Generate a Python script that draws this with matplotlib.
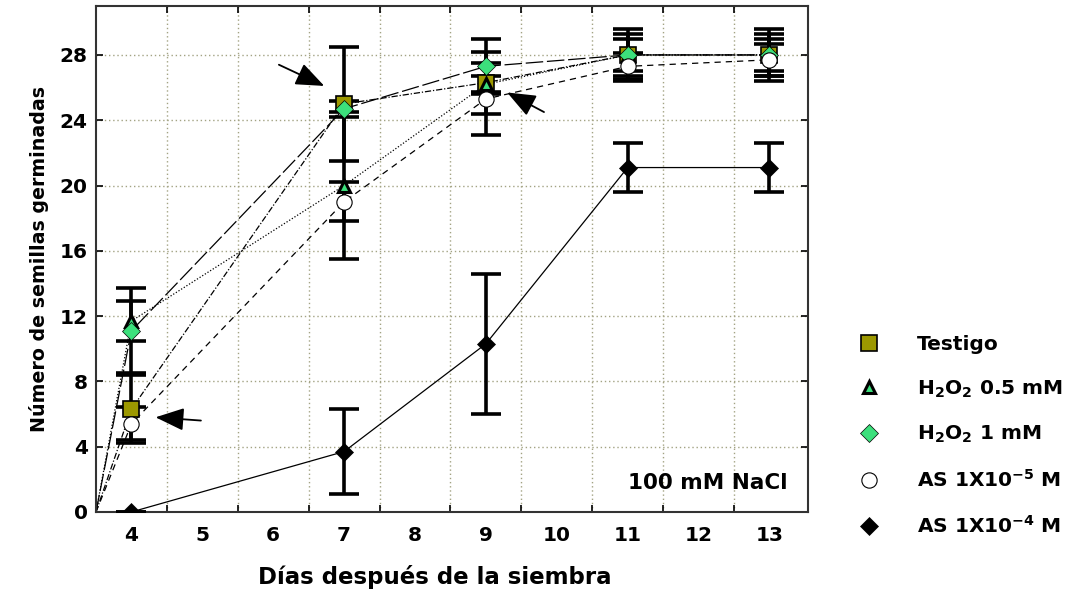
import matplotlib
matplotlib.use('Agg')
import numpy as np
from matplotlib import pyplot as plt
from matplotlib.lines import Line2D

# days after sowing, lines start from the lower left corner of the plot
days = [4, 7, 9, 11, 13]
start_day = 3.5
start_value = 0

testigo = [6.3, 25.0, 26.3, 28.0, 28.0]
testigo_err = [2.1, 3.5, 1.9, 1.3, 1.3]
h2o2_05 = [11.7, 20.0, 26.2, 28.0, 28.0]
h2o2_05_err = [1.2, 4.5, 0.5, 1.6, 1.6]
h2o2_1 = [11.1, 24.7, 27.3, 28.0, 28.0]
h2o2_1_err = [2.6, 0.5, 1.7, 1.0, 1.0]
as_5 = [5.4, 19.0, 25.3, 27.3, 27.7]
as_5_err = [1.0, 1.2, 2.2, 0.8, 1.0]
as_4 = [0.0, 3.7, 10.3, 21.1, 21.1]
as_4_err = [0.0, 2.6, 4.3, 1.5, 1.5]

labels = ['Testigo', 'H$_2$O$_2$ 0.5 mM', 'H$_2$O$_2$ 1 mM',
          'AS 1X10$^{-5}$ M', 'AS 1X10$^{-4}$ M']
yticks = [0, 4, 8, 12, 16, 20, 24, 28]

# arrows (tail, head) in data coordinates
arrows = [((6.08, 27.4), (6.72, 26.1)),
          ((9.82, 24.5), (9.30, 25.7)),
          ((4.98, 5.6), (4.34, 5.8))]

plt.rcParams['font.family'] = ['DejaVu Sans']
plt.rcParams['font.weight'] = 'bold'
plt.rcParams['mathtext.fontset'] = 'custom'
plt.rcParams['mathtext.rm'] = 'DejaVu Sans:bold'
plt.rcParams['mathtext.it'] = 'DejaVu Sans:bold'
plt.rcParams['mathtext.bf'] = 'DejaVu Sans:bold'
plt.rcParams['mathtext.default'] = 'rm'

olive = '#9c9800'
green = '#3ce07c'

series = [
    (testigo, testigo_err, dict(marker='s', ms=11, mfc=olive, mec='black', mew=1.2), (0, (5, 1.5, 1, 1.5))),
    (h2o2_05, h2o2_05_err, dict(marker='^', ms=9, mfc=green, mec='black', mew=2.2), (0, (1, 1.5))),
    (h2o2_1, h2o2_1_err, dict(marker='D', ms=9, mfc=green, mec='black', mew=0.5), (0, (14, 3))),
    (as_5, as_5_err, dict(marker='o', ms=11, mfc='white', mec='black', mew=0.8), (0, (5, 4))),
    (as_4, as_4_err, dict(marker='D', ms=9, mfc='black', mec='black', mew=0.5), '-'),
]

fig = plt.figure(figsize=(10.86, 5.96), dpi=100)
ax = fig.add_axes([0.0884, 0.141, 0.656, 0.849])

handles = []
for vals, err, mk, ls in series:
    ax.plot([start_day] + days, [start_value] + vals, color='black', lw=0.9, ls=ls, zorder=2)
    ax.errorbar(days, vals, yerr=err, fmt='none', ecolor='black', elinewidth=2.6,
                capsize=11, capthick=2.6, zorder=3)
    ax.plot(days, vals, ls='none', zorder=4, **mk)
    handles.append(Line2D([], [], ls='none', **mk))

for tail, head in arrows:
    ax.annotate('', xy=head, xytext=tail,
                arrowprops=dict(arrowstyle='-|>,head_length=0.8,head_width=0.32',
                                color='black', lw=1.3, mutation_scale=22,
                                shrinkA=0, shrinkB=0))

ax.text(13.25, 1.75, '100 mM NaCl', ha='right', va='center', fontsize=15.5, fontweight='bold')

ax.set_xlim(3.5, 13.55)
ax.set_ylim(0, 31)
ax.set_xticks(np.arange(4.5, 13, 1.0))
ax.set_xticklabels([])
ax.set_xticks(range(4, 14), minor=True)
ax.set_xticklabels([str(d) for d in range(4, 14)], minor=True)
ax.set_yticks(yticks)
ax.tick_params(axis='x', which='minor', length=0, pad=10, labelsize=14.5)
ax.tick_params(axis='both', which='major', direction='in', length=5, width=1.2,
               top=True, right=True, labelsize=14.5)
ax.tick_params(axis='y', pad=6)
ax.grid(True, which='major', ls=(0, (1, 2)), color='#a3a383', lw=1.0)
for s in ax.spines.values():
    s.set_linewidth(1.5)
    s.set_color('#333333')

ax.set_xlabel('Días después de la siembra', fontsize=16.5, fontweight='bold', labelpad=14)
ax.xaxis.set_label_coords(0.476, -0.105)
ax.set_ylabel('Número de semillas germinadas', fontsize=13.7, fontweight='bold', labelpad=8)

fig.legend(handles, labels, loc='upper left', bbox_to_anchor=(0.774, 0.468),
           frameon=False, handlelength=1.0, handletextpad=1.9, labelspacing=1.2,
           prop=dict(size=14.5, weight='bold'))

fig.savefig('out.png', dpi=100)
